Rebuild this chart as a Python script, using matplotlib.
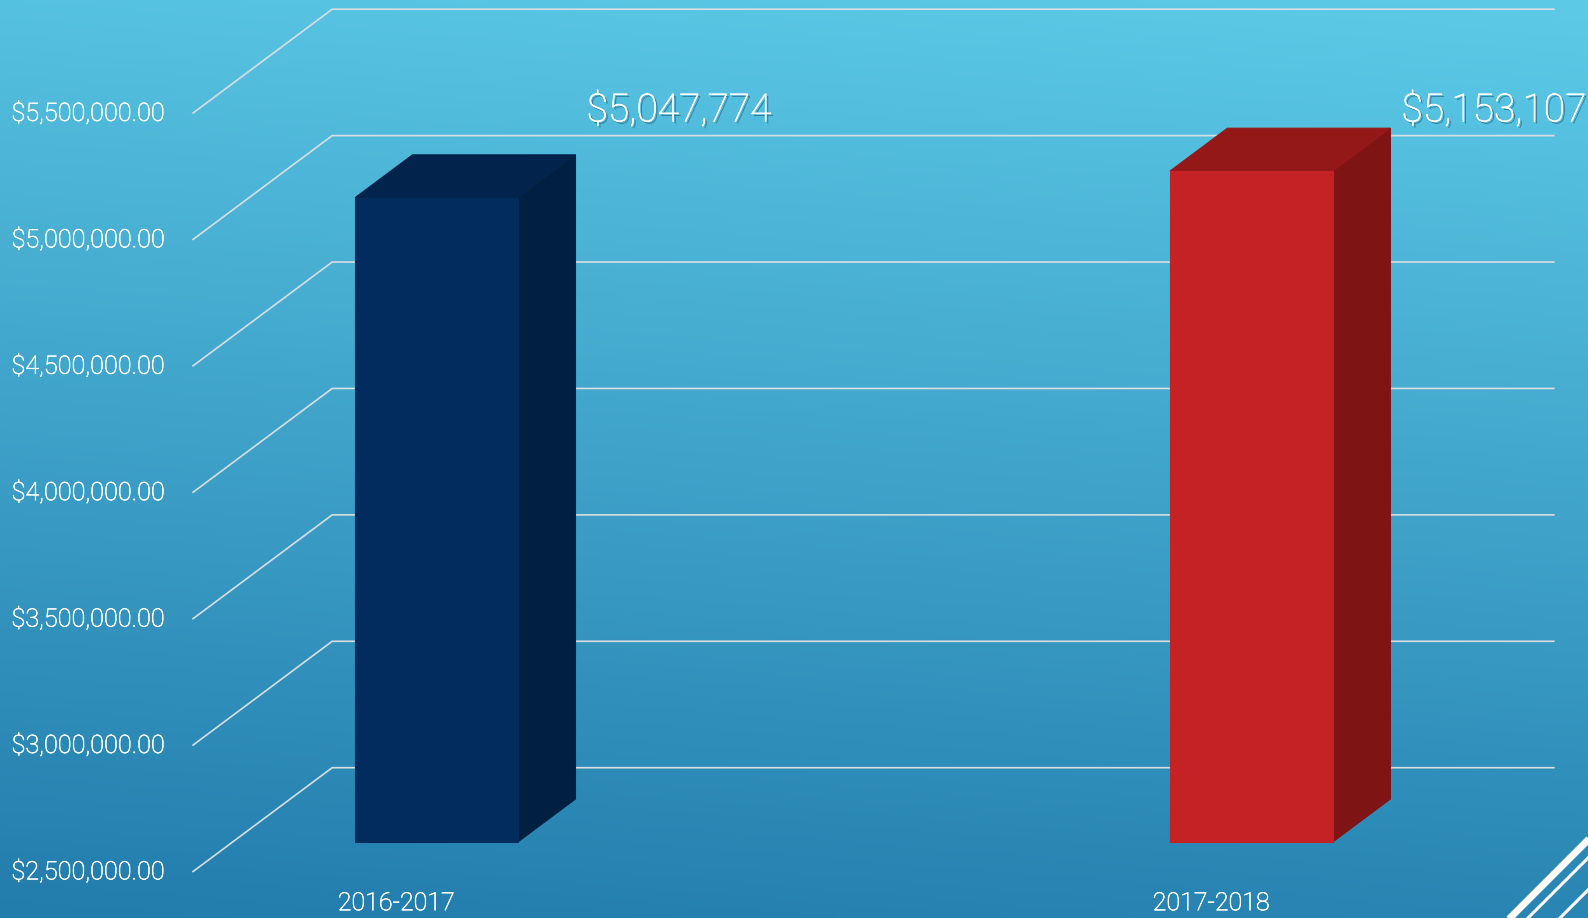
import numpy as np
import matplotlib
matplotlib.use("Agg")
import matplotlib.pyplot as plt
from matplotlib.patches import Polygon
from matplotlib.lines import Line2D
import matplotlib.patheffects as pe

# ---------------- data ----------------
categories = ["2016-2017", "2017-2018"]
values = [5047774, 5153107]
value_labels = ["$5,047,774", "$5,153,107"]
tick_values = [2500000, 3000000, 3500000, 4000000, 4500000, 5000000, 5500000]
tick_labels = ["$2,500,000.00", "$3,000,000.00", "$3,500,000.00", "$4,000,000.00",
               "$4,500,000.00", "$5,000,000.00", "$5,500,000.00"]

# face colours: front, top, side
bar_colors = [("#032C5E", "#02234B", "#011F40"),
              ("#C42224", "#951819", "#7E1414")]

W, H = 1588, 918
fig = plt.figure(figsize=(W / 100, H / 100), dpi=100)

# ---------------- background gradient ----------------
bg = fig.add_axes([0, 0, 1, 1])
bg.set_axis_off()
yy, xx = np.mgrid[0:1:300j, 0:1:300j]
t = np.clip(0.88 * yy + 0.12 * (1 - xx), 0, 1)
top = np.array([93, 203, 232]) / 255
bot = np.array([34, 124, 172]) / 255
img = top[None, None, :] * (1 - t[..., None]) + bot[None, None, :] * t[..., None]
bg.imshow(img, extent=[0, 1, 0, 1], aspect="auto", origin="upper")
bg.set_xlim(0, 1)
bg.set_ylim(0, 1)

# ---------------- main axes (front plane) ----------------
left_px, right_px = 192.4, 1414.8
bot_px, top_px = 872.0, 113.5
ax = fig.add_axes([left_px / W, (H - bot_px) / H, (right_px - left_px) / W, (bot_px - top_px) / H])
ax.set_facecolor("none")
ax.set_axis_off()
xmin, xmax = -0.25, 1.25
ymin, ymax = tick_values[0], tick_values[-1]
ax.set_xlim(xmin, xmax)
ax.set_ylim(ymin, ymax)

# depth of the 3-D box in pixels, converted to data units
DX_PX, DY_PX = 139.8, 104.3
px_per_x = (right_px - left_px) / (xmax - xmin)
px_per_y = (bot_px - top_px) / (ymax - ymin)
ddx = DX_PX / px_per_x
ddy = DY_PX / px_per_y

grid_col = "#D9DEE2"
for v in tick_values:
    xs = [xmin, xmin + ddx, xmax + ddx]
    ys = [v, v + ddy, v + ddy]
    ax.add_line(Line2D(xs, ys, color=grid_col, lw=1.2, clip_on=False, zorder=1,
                       solid_capstyle="butt"))

# ---------------- bars ----------------
bw = 0.2
f0, f1 = 0.29, 0.70
for i, (v, (cf, ct, cs)) in enumerate(zip(values, bar_colors)):
    x0, x1 = i - bw / 2, i + bw / 2
    b = ymin
    front = [(x0 + f0 * ddx, b + f0 * ddy), (x1 + f0 * ddx, b + f0 * ddy),
             (x1 + f0 * ddx, v + f0 * ddy), (x0 + f0 * ddx, v + f0 * ddy)]
    topf = [(x0 + f0 * ddx, v + f0 * ddy), (x1 + f0 * ddx, v + f0 * ddy),
            (x1 + f1 * ddx, v + f1 * ddy), (x0 + f1 * ddx, v + f1 * ddy)]
    side = [(x1 + f0 * ddx, b + f0 * ddy), (x1 + f1 * ddx, b + f1 * ddy),
            (x1 + f1 * ddx, v + f1 * ddy), (x1 + f0 * ddx, v + f0 * ddy)]
    for poly, c in ((side, cs), (topf, ct), (front, cf)):
        ax.add_patch(Polygon(poly, closed=True, facecolor=c, edgecolor=c, lw=0.8,
                             clip_on=False, zorder=3))
    # value label to the right of the bar, at the top of the plot
    ax.annotate(value_labels[i], xy=(x1 + f1 * ddx, ymax), xytext=(8, 2),
                textcoords="offset points", ha="left", va="center",
                fontsize=28, color="#FFFFFF", family="Roboto", fontweight="light",
                annotation_clip=False, zorder=5,
                path_effects=[pe.withSimplePatchShadow(offset=(1.5, -1.5),
                                                       shadow_rgbFace="#1B4A66", alpha=0.55),
                              pe.withStroke(linewidth=0.4, foreground="white")])

# ---------------- tick labels ----------------
thick = [pe.withStroke(linewidth=0.45, foreground="white")]
for v, lab in zip(tick_values, tick_labels):
    ax.annotate(lab, xy=(xmin, v), xytext=(-20.3, 0), textcoords="offset points",
                ha="right", va="center", fontsize=18.2, color="#FFFFFF",
                family="Roboto", fontweight="light", annotation_clip=False,
                path_effects=thick)

for i, lab in enumerate(categories):
    ax.annotate(lab, xy=(i, ymin), xytext=(0, -22.5), textcoords="offset points",
                ha="center", va="center", fontsize=18, color="#FFFFFF",
                family="Roboto", fontweight="light", annotation_clip=False,
                path_effects=thick)

# ---------------- corner decoration ----------------
def fl(x0, y0, x1, y1, lw):
    fig.add_artist(Line2D([x0 / W, x1 / W], [1 - y0 / H, 1 - y1 / H], color="white",
                          lw=lw, transform=fig.transFigure, solid_capstyle="butt"))

fl(1500, 928, 1598, 830, 5.0)
fl(1518, 928, 1598, 848, 2.2)
fl(1550, 928, 1598, 880, 2.2)

fig.savefig("out.png", dpi=100)
